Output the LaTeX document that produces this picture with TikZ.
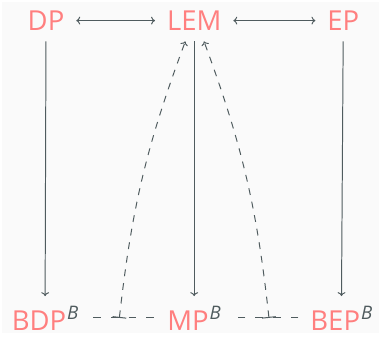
\documentclass[tikz,border=0pt]{standalone}
\usepackage{fontspec}
\setmainfont{Open Sans}
\usetikzlibrary{arrows.meta}
\definecolor{bgc}{HTML}{FAFAFA}
\definecolor{txt}{HTML}{FF7F7F}
\definecolor{ln}{HTML}{4F5B5E}
\newcommand{\supB}{\hspace{1pt}\raisebox{11pt}{\fontsize{19}{19}\selectfont\color{ln}\itshape B}}
\begin{document}
\begin{tikzpicture}[x=1pt,y=1pt,
  lbl/.style={text=txt, font=\fontsize{28}{28}\selectfont, text height=20pt, text depth=0pt, inner xsep=12pt, inner ysep=11pt, anchor=base},
  blbl/.style={lbl, inner ysep=15pt},
  conn/.style={draw=ln, line width=1pt},
  ar/.style={conn, -{To[length=4pt,width=8pt]}},
  dar/.style={conn, {To[length=4pt,width=8pt]}-{To[length=4pt,width=8pt]}},
  dline/.style={conn, dash pattern=on 8pt off 10pt},
  dcurve/.style={conn, dash pattern=on 7pt off 7pt, {Bar[width=14pt]}-{To[length=4pt,width=8pt]}}
]
\fill[bgc] (0,0) rectangle (384,337);
\node[lbl] (DP) at (45,308) {DP};
\node[lbl] (LEM) at (196,308) {LEM};
\node[lbl] (EP) at (348,308) {EP};
\node[blbl] (BDP) at (44,2) {BDP\supB};
\node[blbl] (MP) at (196,2) {MP\supB};
\node[blbl] (BEP) at (346,2) {BEP\supB};
\draw[dar] (DP) -- (LEM);
\draw[dar] (LEM) -- (EP);
\draw[ar] (DP) -- (BDP);
\draw[ar] (LEM) -- (MP);
\draw[ar] (EP) -- (BEP);
\coordinate (a1) at ([xshift=3pt,yshift=3pt]BDP.east);
\coordinate (a2) at ([yshift=3pt]MP.west);
\coordinate (b1) at ([yshift=3pt]BEP.west);
\coordinate (b2) at ([yshift=3pt]MP.east);
\draw[dline] (a1) -- (a2) coordinate[pos=0.42] (t1);
\draw[dline] (b1) -- (b2) coordinate[pos=0.45] (t2);
\draw[dcurve] (t1) to[bend left=7] ([xshift=-9pt]LEM.south);
\draw[dcurve] (t2) to[bend right=7] ([xshift=10pt]LEM.south);
\end{tikzpicture}
\end{document}
